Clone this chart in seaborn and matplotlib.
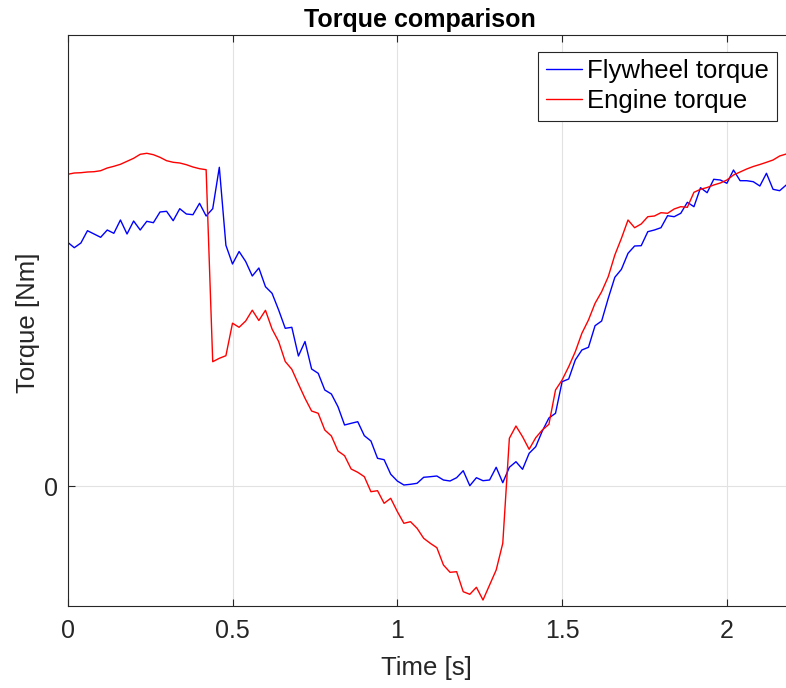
import numpy as np
import pandas as pd
import matplotlib
matplotlib.use("Agg")
import matplotlib.pyplot as plt
import seaborn as sns

# ---- data ----
time_s = np.round(np.arange(110) * 0.02, 2)

flywheel_torque = [
    243.7, 238.3, 243.0, 255.3, 252.0, 248.7, 256.0, 252.7, 266.0, 252.0,
    265.0, 256.0, 264.7, 263.3, 274.0, 274.7, 265.3, 277.3, 272.0, 271.3,
    282.7, 270.0, 277.3, 318.7, 240.7, 222.0, 234.5, 224.5, 210.0, 218.0,
    199.3, 192.7, 176.0, 157.7, 158.7, 130.0, 144.5, 117.0, 112.7, 96.0,
    92.0, 79.3, 61.0, 62.7, 64.3, 50.3, 45.0, 27.7, 26.3, 11.8,
    5.0, 1.0, 1.7, 2.7, 8.7, 9.3, 10.0, 6.0, 5.0, 8.3,
    15.3, 0.3, 8.3, 5.3, 6.0, 18.7, 3.3, 18.7, 24.3, 16.7,
    32.7, 39.3, 55.0, 68.0, 72.7, 104.3, 107.0, 126.0, 136.0, 138.7,
    160.3, 165.0, 187.7, 208.7, 216.7, 232.7, 240.0, 240.3, 254.3, 256.0,
    258.3, 270.3, 269.3, 272.7, 283.7, 279.3, 298.3, 293.3, 306.7, 306.0,
    302.7, 316.0, 305.3, 305.3, 304.3, 300.0, 312.7, 296.7, 295.3, 301.0,
]

engine_torque = [
    311.7, 313.0, 313.3, 314.0, 314.3, 315.3, 318.0, 319.7, 321.7, 324.7,
    327.7, 331.7, 332.7, 331.3, 328.7, 325.3, 323.7, 323.0, 321.3, 319.0,
    317.3, 316.3, 124.3, 127.7, 130.3, 162.8, 158.7, 165.0, 175.8, 165.5,
    175.7, 157.0, 144.5, 124.5, 116.7, 102.0, 87.7, 75.0, 72.7, 56.0,
    50.0, 35.0, 30.3, 17.0, 13.7, 9.3, -5.7, -4.7, -17.3, -12.3,
    -25.5, -37.3, -35.7, -42.3, -52.3, -57.3, -61.7, -79.0, -86.3, -85.7,
    -105.7, -108.3, -101.3, -114.0, -99.0, -84.0, -57.3, 47.7, 60.0, 49.3,
    36.7, 48.3, 56.0, 61.7, 96.0, 106.0, 119.3, 134.3, 152.7, 166.0,
    182.7, 194.3, 209.3, 231.0, 247.7, 266.0, 258.3, 262.0, 269.3, 270.0,
    273.3, 272.7, 277.0, 279.3, 278.7, 293.7, 296.7, 298.5, 301.0, 303.0,
    306.0, 311.0, 314.0, 317.0, 319.5, 321.5, 323.7, 326.0, 330.0, 332.0,
]

series_names = ["Flywheel torque", "Engine torque"]
series_colors = ["#0000ff", "#ff0000"]
x_ticks = [0, 0.5, 1, 1.5, 2]
x_tick_labels = ["0", "0.5", "1", "1.5", "2"]
y_ticks = [0]
y_tick_labels = ["0"]

df = pd.DataFrame({
    "Time": np.concatenate([time_s, time_s]),
    "Torque": np.concatenate([flywheel_torque, engine_torque]),
    "Series": [series_names[0]] * len(time_s) + [series_names[1]] * len(time_s),
})

# ---- style ----
sns.set_style("white")
plt.rcParams["font.family"] = ["Liberation Sans", "DejaVu Sans"]

W, H = 786, 688
fig = plt.figure(figsize=(W / 100, H / 100), dpi=100)
ax_left, ax_right, ax_top, ax_bottom = 67.7, 786.0, 35.0, 606.0
ax = fig.add_axes([ax_left / W, (H - ax_bottom) / H,
                   (ax_right - ax_left) / W, (ax_bottom - ax_top) / H])

sns.lineplot(data=df, x="Time", y="Torque", hue="Series",
             palette=dict(zip(series_names, series_colors)),
             estimator=None, sort=False, linewidth=1.0, ax=ax)

ax.set_xlim(0, (ax_right - ax_left) / 329.6)
ax.set_ylim(-120, 451)
ax.set_xticks(x_ticks)
ax.set_xticklabels(x_tick_labels)
ax.set_yticks(y_ticks)
ax.set_yticklabels(y_tick_labels)

spine_col = "#262626"
for s in ["left", "bottom", "top"]:
    ax.spines[s].set_visible(True)
    ax.spines[s].set_color(spine_col)
    ax.spines[s].set_linewidth(0.8)
ax.spines["right"].set_visible(False)

ax.tick_params(axis="both", which="major", direction="in", length=5,
               width=0.8, color=spine_col, labelsize=18, labelcolor="#262626")
ax.tick_params(axis="x", top=True, bottom=True, pad=9)
ax.tick_params(axis="y", left=True, right=False, pad=7)

ax.grid(True, color="#e2e2e2", linewidth=0.8)
ax.set_axisbelow(True)

ax.set_xlabel("Time [s]", fontsize=18.5, color="#262626", labelpad=10)
ax.set_ylabel("Torque [Nm]", fontsize=18.5, color="#262626", labelpad=3)
ax.yaxis.label.set_y((ax_bottom - 323) / (ax_bottom - ax_top))
ax.set_title("Torque comparison", fontsize=18, fontweight="bold",
             color="black", x=(420 - ax_left) / (ax_right - ax_left), pad=6)

handles, labels = ax.get_legend_handles_labels()
leg = ax.legend(handles, labels, loc="upper right",
                bbox_to_anchor=(776.7 / W, 1 - 51.7 / H),
                bbox_transform=fig.transFigure, borderaxespad=0,
                fontsize=18.5, frameon=True, fancybox=False,
                edgecolor=spine_col, framealpha=1, facecolor="white",
                handlelength=1.4, handletextpad=0.2,
                borderpad=0.3, labelspacing=0.22)
leg.get_frame().set_linewidth(0.8)
for line in leg.get_lines():
    line.set_linewidth(1.0)
for txt in leg.get_texts():
    txt.set_color("black")

fig.savefig("out.png", dpi=100)
